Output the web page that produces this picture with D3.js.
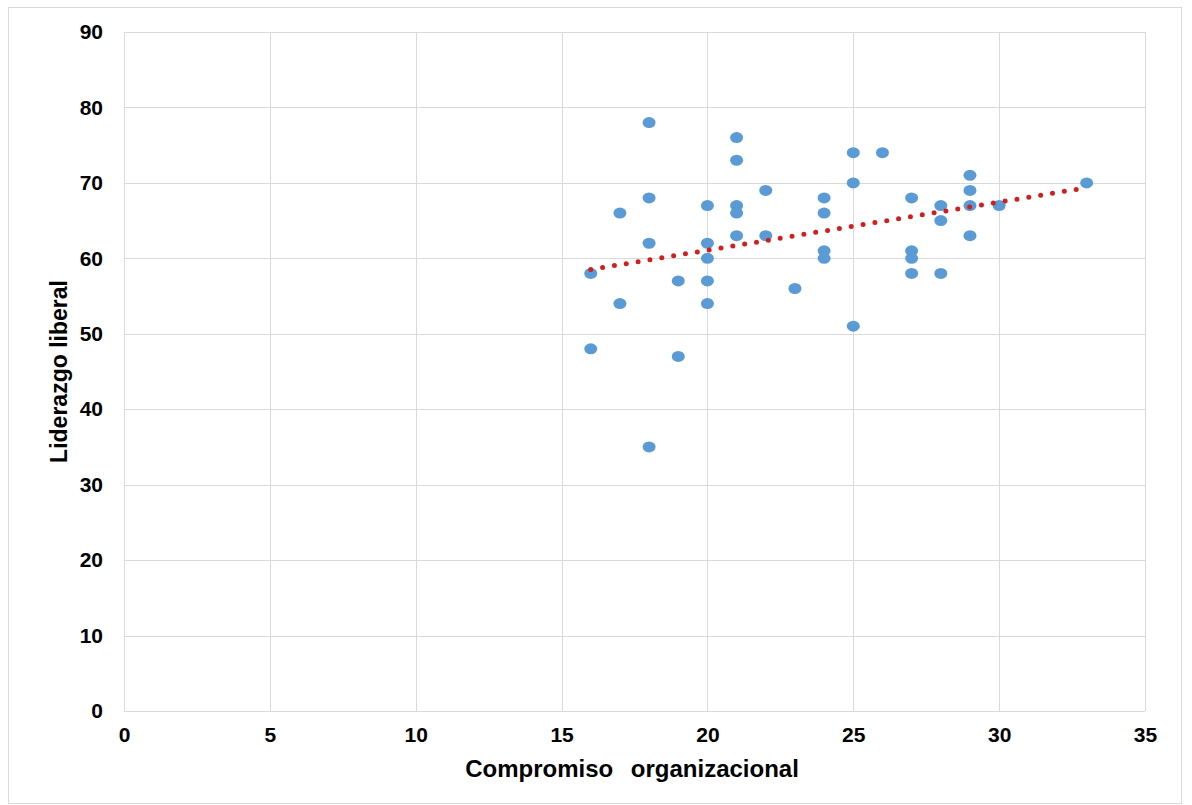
<!DOCTYPE html>
<html>
<head>
<meta charset="utf-8">
<script src="https://cdn.jsdelivr.net/npm/d3@7"></script>
<style>
  body { margin: 0; background: #fff; }
  svg { display: block; }
  text { font-family: "Liberation Sans", Arial, sans-serif; font-weight: 700; fill: #000; }
</style>
</head>
<body>
<svg id="chart" width="1192" height="805"></svg>
<script>
// Compromiso organizacional (x) vs Liderazgo liberal (y)
const compromiso = [16, 16, 17, 17, 18, 18, 18, 18, 19, 19,
  20, 20, 20, 20, 20, 21, 21, 21, 21, 21,
  22, 22, 23, 24, 24, 24, 24, 25, 25, 25,
  26, 27, 27, 27, 27, 28, 28, 28, 29, 29,
  29, 29, 30, 33];
const liderazgo = [58, 48, 66, 54, 78, 68, 62, 35, 57, 47,
  67, 62, 60, 57, 54, 76, 73, 67, 66, 63,
  69, 63, 56, 68, 66, 61, 60, 74, 70, 51,
  74, 68, 61, 60, 58, 67, 65, 58, 71, 69,
  67, 63, 67, 70];
const xTicks = [0, 5, 10, 15, 20, 25, 30, 35];
const yTicks = [0, 10, 20, 30, 40, 50, 60, 70, 80, 90];

const svg = d3.select("#chart");
const margin = { left: 124, top: 32, right: 1145, bottom: 711 };

// outer frame
svg.append("rect")
  .attr("x", 8.5).attr("y", 7.5)
  .attr("width", 1173).attr("height", 796)
  .attr("fill", "none").attr("stroke", "#d9d9d9");

const x = d3.scaleLinear().domain([0, 35]).range([margin.left, margin.right]);
const y = d3.scaleLinear().domain([0, 90]).range([margin.bottom, margin.top]);

// gridlines
svg.append("g")
  .selectAll("line")
  .data(yTicks)
  .join("line")
  .attr("x1", margin.left).attr("x2", margin.right)
  .attr("y1", (d) => Math.round(y(d)) + 0.5)
  .attr("y2", (d) => Math.round(y(d)) + 0.5)
  .attr("stroke", "#d9d9d9");

svg.append("g")
  .selectAll("line")
  .data(xTicks)
  .join("line")
  .attr("x1", (d) => Math.round(x(d)) + 0.5)
  .attr("x2", (d) => Math.round(x(d)) + 0.5)
  .attr("y1", margin.top).attr("y2", margin.bottom)
  .attr("stroke", "#d9d9d9");

// axes (labels only, lines are the grid)
const xAxis = svg.append("g")
  .attr("transform", `translate(0,${margin.bottom})`)
  .call(d3.axisBottom(x).tickValues(xTicks).tickSize(0).tickPadding(16).tickFormat(d3.format("d")));
xAxis.select(".domain").remove();
xAxis.selectAll("text").attr("font-size", 21).attr("font-family", null);

const yAxis = svg.append("g")
  .attr("transform", `translate(${margin.left},0)`)
  .call(d3.axisLeft(y).tickValues(yTicks).tickSize(0).tickPadding(21).tickFormat(d3.format("d")));
yAxis.select(".domain").remove();
yAxis.selectAll("text").attr("font-size", 21).attr("font-family", null);

// axis titles
svg.append("text")
  .attr("x", 632)
  .attr("y", 777)
  .attr("text-anchor", "middle")
  .attr("font-size", 24)
  .style("word-spacing", "11px")
  .text("Compromiso organizacional");

svg.append("text")
  .attr("transform", `translate(67,${(margin.top + margin.bottom) / 2}) rotate(-90)`)
  .attr("text-anchor", "middle")
  .attr("font-size", 23)
  .text("Liderazgo liberal");

// points
const points = compromiso.map((c, i) => ({ x: c, y: liderazgo[i] }));

svg.append("g")
  .selectAll("ellipse")
  .data(points)
  .join("ellipse")
  .attr("cx", (d) => x(d.x))
  .attr("cy", (d) => y(d.y))
  .attr("rx", 6.5)
  .attr("ry", 5.5)
  .attr("fill", "#5b9bd5");

// linear trendline (least squares)
const mx = d3.mean(points, (d) => d.x);
const my = d3.mean(points, (d) => d.y);
const slope = d3.sum(points, (d) => (d.x - mx) * (d.y - my)) /
  d3.sum(points, (d) => (d.x - mx) ** 2);
const intercept = my - slope * mx;
const [x0, x1] = d3.extent(points, (d) => d.x);

svg.append("line")
  .attr("x1", x(x0)).attr("y1", y(intercept + slope * x0))
  .attr("x2", x(x1)).attr("y2", y(intercept + slope * x1))
  .attr("stroke", "#d01f1f")
  .attr("stroke-width", 5)
  .attr("stroke-linecap", "round")
  .attr("stroke-dasharray", "0 12");
</script>
</body>
</html>
